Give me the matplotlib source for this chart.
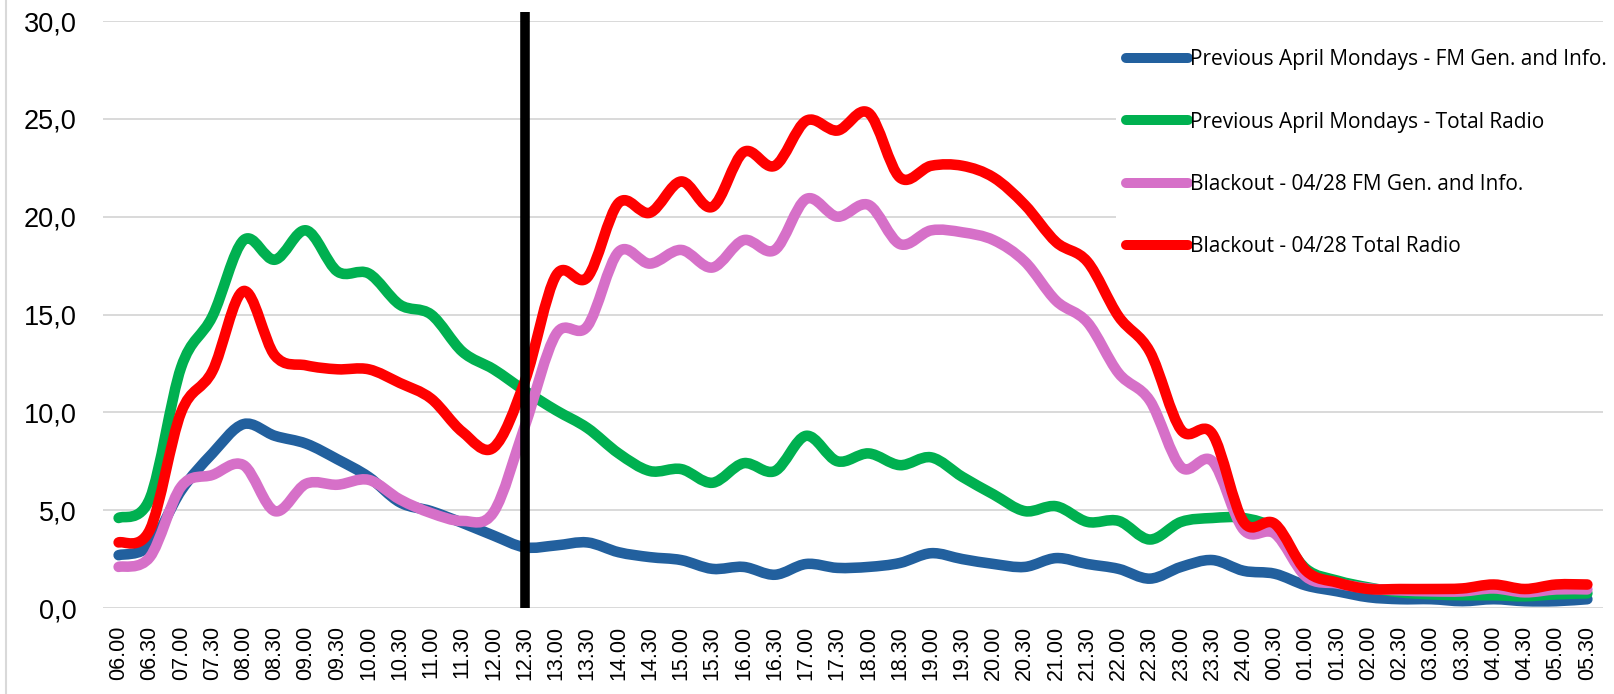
"""Blackout 28/04 - audiencia radio por franja horaria."""

import matplotlib

matplotlib.use("Agg")
import matplotlib.pyplot as plt
from matplotlib.lines import Line2D
from matplotlib.patches import PathPatch
from matplotlib.path import Path

# --- datos ---
hours = [f"{h:02d}.{m}" for h in range(6, 24) for m in ("00", "30")]
hours += ["24.00", "00.30"]
hours += [f"{h:02d}.{m}" for h in range(1, 6) for m in ("00", "30")]

prev_fm = [2.7, 3.2, 6.0, 7.9, 9.4, 8.8, 8.4, 7.6, 6.7, 5.4,
           4.95, 4.35, 3.7, 3.1, 3.2, 3.35, 2.85, 2.6, 2.45, 2.0,
           2.1, 1.7, 2.25, 2.05, 2.1, 2.3, 2.8, 2.5, 2.25, 2.1,
           2.55, 2.25, 2.0, 1.5, 2.1, 2.45, 1.9, 1.75, 1.15, 0.85,
           0.55, 0.45, 0.45, 0.35, 0.45, 0.35, 0.35, 0.45]
prev_total = [4.6, 5.6, 12.3, 14.9, 18.8, 17.8, 19.3, 17.2, 17.1, 15.5,
              15.0, 13.1, 12.2, 11.1, 10.1, 9.2, 7.9, 7.0, 7.1, 6.4,
              7.4, 7.0, 8.8, 7.5, 7.9, 7.3, 7.7, 6.7, 5.8, 4.95,
              5.2, 4.4, 4.45, 3.5, 4.4, 4.6, 4.6, 4.0, 2.0, 1.4,
              1.05, 0.8, 0.7, 0.65, 0.65, 0.6, 0.7, 0.75]
black_fm = [2.1, 2.6, 6.2, 6.8, 7.3, 4.95, 6.35, 6.3, 6.55, 5.55,
            4.85, 4.45, 4.9, 9.3, 14.0, 14.4, 18.2, 17.6, 18.3, 17.4,
            18.8, 18.3, 20.9, 20.0, 20.6, 18.6, 19.3, 19.2, 18.8, 17.7,
            15.7, 14.6, 12.0, 10.6, 7.2, 7.5, 4.0, 3.8, 1.6, 1.25,
            1.0, 0.9, 0.85, 0.85, 1.0, 0.8, 0.95, 0.95]
black_total = [3.35, 4.0, 10.0, 12.1, 16.2, 12.9, 12.4, 12.2, 12.2, 11.5,
               10.7, 9.0, 8.2, 11.6, 17.0, 16.9, 20.7, 20.2, 21.8, 20.5,
               23.3, 22.6, 24.9, 24.4, 25.3, 22.0, 22.6, 22.6, 22.0, 20.6,
               18.7, 17.7, 14.9, 13.1, 9.1, 8.9, 4.4, 4.3, 1.9, 1.3,
               0.97, 0.97, 0.97, 1.0, 1.2, 0.97, 1.2, 1.2]

series = [
    ("Previous April Mondays - FM Gen. and Info.", prev_fm, "#22609e"),
    ("Previous April Mondays - Total Radio", prev_total, "#00b050"),
    ("Blackout - 04/28 FM Gen. and Info.", black_fm, "#d670c8"),
    ("Blackout - 04/28 Total Radio", black_total, "#ff0000"),
]
blackout_at = "12.30"
y_ticks = [0, 5, 10, 15, 20, 25, 30]
y_labels = ["0,0", "5,0", "10,0", "15,0", "20,0", "25,0", "30,0"]


def smooth_path(ys):
    """Curva suavizada tipo Excel (Bezier con tangentes Catmull-Rom)."""
    xs = list(range(len(ys)))
    n = len(ys)
    verts = [(xs[0], ys[0])]
    codes = [Path.MOVETO]
    for i in range(n - 1):
        a = max(i - 1, 0)
        d = min(i + 2, n - 1)
        c1 = (xs[i] + (xs[i + 1] - xs[a]) / 6, ys[i] + (ys[i + 1] - ys[a]) / 6)
        c2 = (xs[i + 1] - (xs[d] - xs[i]) / 6, ys[i + 1] - (ys[d] - ys[i]) / 6)
        verts += [c1, c2, (xs[i + 1], ys[i + 1])]
        codes += [Path.CURVE4] * 3
    return Path(verts, codes)


fig = plt.figure(figsize=(16.15, 6.94), dpi=100)
ax = fig.add_axes([103 / 1615, 86 / 694, 1500 / 1615, 587 / 694])

handles = []
for label, vals, color in series:
    patch = PathPatch(smooth_path(vals), fill=False, edgecolor=color, lw=7.6,
                      capstyle="round", joinstyle="round", zorder=3)
    ax.add_patch(patch)
    handles.append(Line2D([], [], color=color, lw=7.2, solid_capstyle="round"))

ax.axvline(hours.index(blackout_at), ymin=0, ymax=1.015, color="black",
           lw=6.9, solid_capstyle="butt", clip_on=False, zorder=5)

ax.set_xlim(-0.5, len(hours) - 0.5)
ax.set_ylim(0, 30)
ax.set_yticks(y_ticks)
ax.set_yticklabels(y_labels, fontsize=19.5, family="Liberation Sans")
ax.set_xticks(range(len(hours)))
ax.set_xticklabels(hours, rotation=90, fontsize=15.5, family="Liberation Sans")
ax.tick_params(axis="both", length=0)
ax.tick_params(axis="y", pad=19)
ax.tick_params(axis="x", pad=13)
for sp in ax.spines.values():
    sp.set_visible(False)
ax.yaxis.grid(True, color="#d9d9d9", lw=1.4)
ax.set_axisbelow(True)

leg = ax.legend(handles, [s[0] for s in series], loc="upper left",
                bbox_to_anchor=(1116 / 1615, 1 - 39 / 694),
                bbox_transform=fig.transFigure, borderaxespad=0,
                frameon=True, fancybox=False, framealpha=1,
                facecolor="white", edgecolor="none",
                handlelength=2.95, handletextpad=0.08, borderpad=0.5,
                labelspacing=1.98, prop={"family": "Open Sans", "size": 15})
leg.set_zorder(6)

fig.add_artist(Line2D([6 / 1615, 6 / 1615], [0, 1], transform=fig.transFigure,
                      color="#d9d9d9", lw=1.5))

fig.savefig("out.png", dpi=100)
